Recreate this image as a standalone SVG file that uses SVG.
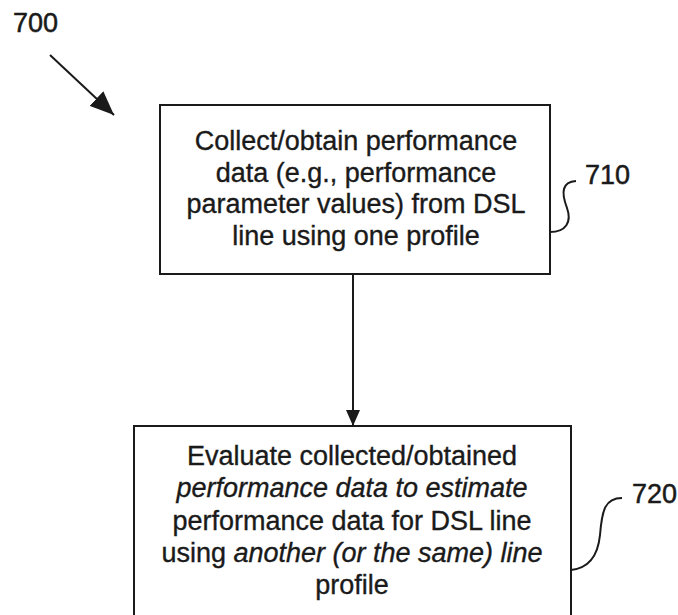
<svg xmlns="http://www.w3.org/2000/svg" width="678" height="615" viewBox="0 0 678 615">
<defs>
<style>
.box{fill:none;stroke:#1a1a1a;stroke-width:2}
.t{font-family:"Liberation Sans",Arial,sans-serif;font-size:27px;fill:#1a1a1a;stroke:#1a1a1a;stroke-width:0.35;text-anchor:middle}
.ref{font-family:"Liberation Sans",Arial,sans-serif;font-size:27px;fill:#1a1a1a;stroke:#1a1a1a;stroke-width:0.5}
.ln{fill:none;stroke:#1a1a1a;stroke-width:2}
.i{font-style:italic}
</style>
<marker id="ah2" markerWidth="24" markerHeight="20" refX="24" refY="10" orient="auto" markerUnits="userSpaceOnUse" viewBox="0 0 24 20">
<path d="M0,0 L24,10 L0,20 z" fill="#1a1a1a"/>
</marker>
<marker id="ah3" markerWidth="16" markerHeight="14" refX="16" refY="7" orient="auto" markerUnits="userSpaceOnUse" viewBox="0 0 16 14">
<path d="M0,0 L16,7 L0,14 z" fill="#1a1a1a"/>
</marker>
</defs>
<rect width="678" height="615" fill="#fff"/>
<g id="label-700">
<text class="ref" x="13" y="32">700</text>
<line class="ln" x1="50" y1="55" x2="114" y2="115" marker-end="url(#ah2)"/>
</g>
<g id="node-710">
<rect class="box" x="160" y="105" width="390" height="169"/>
<text class="t" x="356" y="150">Collect/obtain performance</text>
<text class="t" x="356" y="181.5">data (e.g., performance</text>
<text class="t" x="356" y="213">parameter values) from DSL</text>
<text class="t" x="356" y="244.5">line using one profile</text>
<path class="ln" d="M550,232 C566,232 572,222 567,208 C561,192 562,182 576,181"/>
<text class="ref" x="585" y="184">710</text>
</g>
<g id="node-720">
<rect class="box" x="134" y="426" width="437" height="210"/>
<text class="t" x="352" y="465">Evaluate collected/obtained</text>
<text class="t i" x="352" y="497">performance data to estimate</text>
<text class="t" x="352" y="529.5">performance data for DSL line</text>
<text class="t" x="352" y="562">using <tspan class="i">another (or the same) line</tspan></text>
<text class="t" x="352" y="594">profile</text>
<path class="ln" d="M571,570 C590,568 598,555 600,535 C602,510 605,498 622,498"/>
<text class="ref" x="632" y="503">720</text>
</g>
<g id="connectors">
<line class="ln" x1="353" y1="274" x2="353" y2="426" marker-end="url(#ah3)"/>
</g>
</svg>
